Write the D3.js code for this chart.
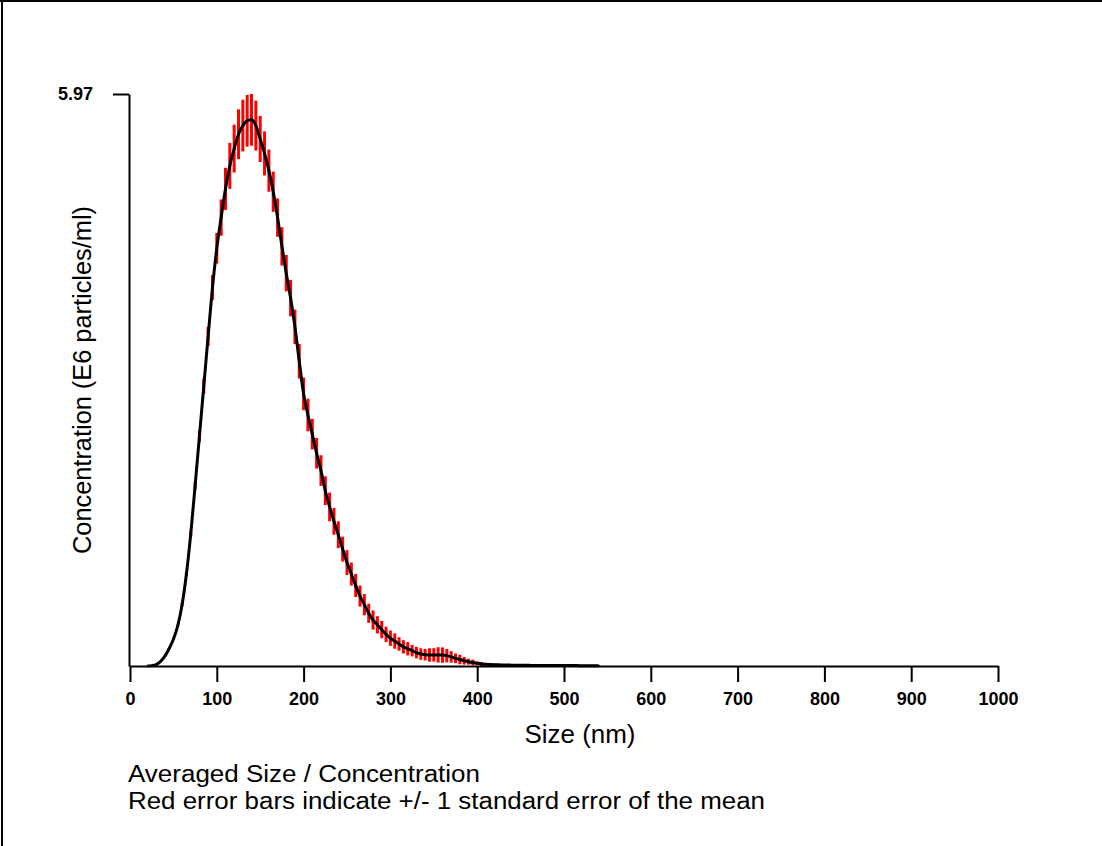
<!DOCTYPE html>
<html>
<head>
<meta charset="utf-8">
<script src="https://cdn.jsdelivr.net/npm/d3@7"></script>
<style>
    body { margin: 0; background: #fff; }
    svg text { font-family: "Liberation Sans", Arial, sans-serif; fill: #000; }
</style>
</head>
<body>
<div id="chart"></div>
<script>

// bin centres (nm)
const sizes = [
    20, 25, 30, 35, 40, 45, 50, 55, 60, 65, 70, 75, 80, 85, 90, 95,
    100, 105, 110, 115, 120, 125, 130, 135, 140, 145, 150, 155, 160, 165, 170, 175,
    180, 185, 190, 195, 200, 205, 210, 215, 220, 225, 230, 235, 240, 245, 250, 255,
    260, 265, 270, 275, 280, 285, 290, 295, 300, 305, 310, 315, 320, 325, 330, 335,
    340, 345, 350, 355, 360, 365, 370, 375, 380, 385, 390, 395, 400, 405, 410, 415,
    420, 425, 430, 435, 440, 445, 450, 455, 460, 465, 470, 475, 480, 485, 490, 495,
    500, 505, 510, 515, 520, 525, 530, 535, 540
];

// averaged concentration (E6 particles/ml)
const concentration = [
    0.000, 0.004, 0.015, 0.045, 0.10, 0.18, 0.28, 0.42, 0.64, 0.96, 1.38, 1.88, 2.40, 2.92, 3.44, 3.95,
    4.36, 4.68, 4.98, 5.22, 5.40, 5.55, 5.64, 5.69, 5.70, 5.64, 5.50, 5.35, 5.17, 4.95, 4.68, 4.38,
    4.10, 3.84, 3.54, 3.18, 2.84, 2.62, 2.42, 2.22, 2.04, 1.83, 1.66, 1.51, 1.37, 1.22, 1.08, 0.96,
    0.84, 0.73, 0.64, 0.55, 0.48, 0.43, 0.38, 0.33, 0.29, 0.26, 0.23, 0.20, 0.18, 0.16, 0.14, 0.125,
    0.118, 0.115, 0.116, 0.116, 0.114, 0.108, 0.095, 0.080, 0.068, 0.055, 0.045, 0.036, 0.028, 0.022, 0.018, 0.015,
    0.013, 0.012, 0.011, 0.010, 0.009, 0.008, 0.008, 0.007, 0.007, 0.006, 0.006, 0.006, 0.005, 0.005, 0.005, 0.005,
    0.004, 0.004, 0.004, 0.004, 0.003, 0.003, 0.003, 0.002, 0.002
];

// standard error of the mean
const stdErr = [
    0.005, 0.005, 0.005, 0.005, 0.005, 0.005, 0.005, 0.01, 0.015, 0.02, 0.03, 0.04, 0.06, 0.08, 0.10, 0.13,
    0.16, 0.19, 0.22, 0.24, 0.25, 0.26, 0.27, 0.27, 0.27, 0.26, 0.24, 0.23, 0.22, 0.21, 0.20, 0.20,
    0.19, 0.19, 0.18, 0.18, 0.17, 0.17, 0.16, 0.16, 0.16, 0.15, 0.15, 0.14, 0.14, 0.13, 0.13, 0.12,
    0.12, 0.11, 0.11, 0.10, 0.10, 0.09, 0.09, 0.08, 0.08, 0.08, 0.07, 0.07, 0.07, 0.06, 0.06, 0.06,
    0.06, 0.07, 0.07, 0.08, 0.08, 0.07, 0.06, 0.05, 0.05, 0.04, 0.03, 0.03, 0.02, 0.02, 0.015, 0.01,
    0.01, 0.01, 0.01, 0.01, 0.01, 0.01, 0.01, 0.01, 0.01, 0.01, 0.01, 0.01, 0.01, 0.01, 0.01, 0.01,
    0.01, 0.01, 0.01, 0.01, 0.01, 0.01, 0.01, 0.01, 0.01
];

const xTicks = [0, 100, 200, 300, 400, 500, 600, 700, 800, 900, 1000];
const yTicks = [5.97];
const notes = [
    "Averaged Size / Concentration",
    "Red error bars indicate +/- 1 standard error of the mean"
];
const noteWidths = [352, 637];

const width = 1102, height = 846;
const plot = { left: 130, right: 998, top: 94, bottom: 666 };

const data = sizes.map(function(s, i) {
    return { size: s, value: concentration[i], se: stdErr[i] };
});

const svg = d3.select("#chart").append("svg")
    .attr("width", width)
    .attr("height", height);

// page frame (top + left edges only)
svg.append("line")
    .attr("x1", 0).attr("x2", width)
    .attr("y1", 1).attr("y2", 1)
    .attr("stroke", "#000").attr("stroke-width", 2);
svg.append("line")
    .attr("x1", 2).attr("x2", 2)
    .attr("y1", 0).attr("y2", height)
    .attr("stroke", "#000").attr("stroke-width", 2);

const x = d3.scaleLinear()
    .domain([0, 1000])
    .range([plot.left, plot.right]);

const y = d3.scaleLinear()
    .domain([0, 5.97])
    .range([plot.bottom, plot.top]);

// error bars
svg.append("g")
    .selectAll("line")
    .data(data).enter()
    .append("line")
        .attr("x1", function(d) { return x(d.size); })
        .attr("x2", function(d) { return x(d.size); })
        .attr("y1", function(d) { return y(Math.max(0, d.value - d.se)); })
        .attr("y2", function(d) { return y(d.value + d.se); })
        .attr("stroke", "#ff0000")
        .attr("stroke-width", 3);

// mean curve
const line = d3.line()
    .x(function(d) { return x(d.size); })
    .y(function(d) { return y(d.value); })
    .curve(d3.curveMonotoneX);

svg.append("path")
    .datum(data)
    .attr("d", line)
    .attr("fill", "none")
    .attr("stroke", "#000")
    .attr("stroke-width", 3);

// axes
const xAxis = svg.append("g")
    .attr("transform", `translate(0,${plot.bottom})`)
    .call(d3.axisBottom(x)
        .tickValues(xTicks)
        .tickSize(16)
        .tickSizeOuter(0)
        .tickPadding(10)
        .tickFormat(d3.format("d")));

const yAxis = svg.append("g")
    .attr("transform", `translate(${plot.left - 1},0)`)
    .call(d3.axisLeft(y)
        .tickValues(yTicks)
        .tickSize(16)
        .tickSizeOuter(0)
        .tickPadding(20)
        .tickFormat(d3.format(".2f")));

[xAxis, yAxis].forEach(function(g) {
    g.selectAll("path, line")
        .attr("stroke", "#000")
        .attr("stroke-width", 2);
    g.selectAll("text")
        .style("font-family", "'Liberation Sans', Arial, sans-serif")
        .style("font-size", "18px")
        .style("font-weight", "bold")
        .attr("fill", "#222");
});

// axis titles
svg.append("text")
    .attr("x", 580)
    .attr("y", 743)
    .attr("text-anchor", "middle")
    .style("font-size", "25px")
    .attr("textLength", 111)
    .attr("lengthAdjust", "spacingAndGlyphs")
    .text("Size (nm)");

svg.append("text")
    .attr("transform", "translate(91,380) rotate(-90)")
    .attr("text-anchor", "middle")
    .style("font-size", "25px")
    .attr("textLength", 348)
    .attr("lengthAdjust", "spacingAndGlyphs")
    .text("Concentration (E6 particles/ml)");

// footnotes
svg.append("g")
    .selectAll("text")
    .data(notes).enter()
    .append("text")
        .attr("x", 128)
        .attr("y", function(d, i) { return 782 + i * 27; })
        .style("font-size", "23px")
        .attr("textLength", function(d, i) { return noteWidths[i]; })
        .attr("lengthAdjust", "spacingAndGlyphs")
        .text(function(d) { return d; });

</script>
</body>
</html>
